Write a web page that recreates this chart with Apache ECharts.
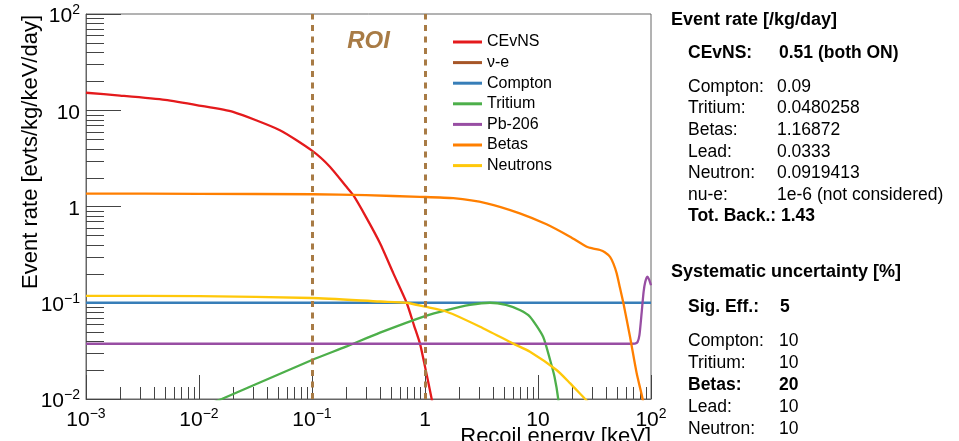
<!DOCTYPE html>
<html>
<head>
<meta charset="utf-8">
<script src="https://cdn.jsdelivr.net/npm/echarts@6/dist/echarts.min.js"></script>
<style>
  html, body { margin: 0; padding: 0; background: #fff; }
  #chart { width: 959px; height: 441px; }
</style>
</head>
<body>
<div id="chart"></div>
<script>
const FONT = '"Liberation Sans", Arial, Helvetica, sans-serif';

// Recoil energy [keV] and differential rate [evts/kg/keV/day] per component
const cevnsEnergy = [0.001, 0.002, 0.005, 0.01, 0.02, 0.052, 0.1, 0.144, 0.2, 0.232, 0.3, 0.4, 0.525, 0.688, 0.8, 0.904, 1.0, 1.146, 1.25];
const cevnsRate   = [15.2, 14.2, 12.8, 11.2, 9.6, 6.2, 3.8, 2.59, 1.62, 1.31, 0.78, 0.415, 0.202, 0.1, 0.058, 0.0374, 0.0217, 0.01, 0.0055];

const nueEnergy = [0.001, 100];
const nueRate   = [1e-6, 1e-6];

const comptonEnergy = [0.001, 100];
const comptonRate   = [0.1, 0.1];

const tritiumEnergy = [0.012, 0.0159, 0.03, 0.1, 0.2, 0.4, 1, 1.556, 2.5, 3.76, 5.2, 6.9, 8.49, 11.1, 12.8, 14, 15.1, 16];
const tritiumRate   = [0.0087, 0.01, 0.0138, 0.0254, 0.035, 0.0489, 0.0727, 0.084, 0.095, 0.1, 0.095, 0.084, 0.0717, 0.0444, 0.0254, 0.017, 0.01, 0.005];

const leadEnergy = [0.001, 1, 50, 68, 72, 76, 79, 82.6, 86, 89, 92.7, 96, 100];
const leadRate   = [0.0375, 0.0375, 0.0375, 0.0375, 0.0376, 0.039, 0.046, 0.078, 0.13, 0.165, 0.187, 0.175, 0.152];

const betasEnergy = [0.001, 0.01, 0.1, 0.3, 0.9, 1.78, 3.52, 6.9, 11.9, 19.2, 27, 31, 35.4, 39, 43.4, 46.5, 49.7, 53, 56.9, 65.2, 74.7, 84.3, 90];
const betasRate   = [1.36, 1.355, 1.34, 1.31, 1.26, 1.22, 1.08, 0.85, 0.653, 0.485, 0.382, 0.365, 0.353, 0.335, 0.30, 0.255, 0.202, 0.145, 0.1, 0.0444, 0.0185, 0.01, 0.006];

const neutronEnergy = [0.001, 0.01, 0.1, 0.4, 0.688, 1, 1.556, 3.07, 6.05, 8.49, 14.6, 19.2, 26.1, 30];
const neutronRate   = [0.118, 0.117, 0.112, 0.103, 0.1, 0.091, 0.0807, 0.0564, 0.0376, 0.031, 0.020, 0.0146, 0.01, 0.0085];

// Region of interest [keV]
const roiRange = [0.1, 1];

// Axis ranges (decade ticks)
const xRange = [1e-3, 1e2];
const yRange = [1e-2, 1e2];

// Summary panel
const rateTitle = 'Event rate [/kg/day]';
const signalLabel = 'CEvNS:';
const signalValue = '0.51 (both ON)';
const rateLabels = ['Compton:', 'Tritium:', 'Betas:', 'Lead:', 'Neutron:', 'nu-e:'];
const rateValues = ['0.09', '0.0480258', '1.16872', '0.0333', '0.0919413', '1e-6 (not considered)'];
const totalLabel = 'Tot. Back.: 1.43';
const systTitle = 'Systematic uncertainty [%]';
const effLabel = 'Sig. Eff.:';
const effValue = '5';
const systLabels = ['Compton:', 'Tritium:', 'Betas:', 'Lead:', 'Neutron:'];
const systValues = ['10', '10', '20', '10', '10'];
const systBold   = [false, false, true, false, false];

const zip = (xs, ys) => xs.map((x, i) => [x, ys[i]]);

// Minor tick values 2..9 x 10^d inside an axis range
function minorTicks(range) {
  const out = [];
  const d0 = Math.round(Math.log10(range[0]));
  const d1 = Math.round(Math.log10(range[1]));
  for (let d = d0; d < d1; d++) {
    for (let k = 2; k <= 9; k++) out.push(k * Math.pow(10, d));
  }
  return out;
}
const xMinor = minorTicks(xRange);
const yMinor = minorTicks(yRange);

function powerLabel(v) {
  const e = Math.round(Math.log10(v));
  if (e === 0) return '{b|1}';
  if (e === 1) return '{b|10}';
  return '{b|10}{s|' + (e < 0 ? '\u2212' + (-e) : String(e)) + '}';
}
const labelRich = {
  b: { fontFamily: FONT, fontSize: 21, lineHeight: 21, padding: [5, 0, 0, 0], color: '#000' },
  s: { fontFamily: FONT, fontSize: 14, lineHeight: 14, verticalAlign: 'top', color: '#000' }
};

function curve(name, color, xs, ys) {
  return {
    name, type: 'line', data: zip(xs, ys),
    symbol: 'none', smooth: 0.2, z: 3,
    lineStyle: { color, width: 2.3 }, itemStyle: { color },
    clip: true
  };
}

const tickColor = '#444';
function tickSeries(values, horizontal, len) {
  return {
    type: 'custom', silent: true, z: 1, clip: false,
    data: values.map(v => horizontal ? [v, yRange[0]] : [xRange[0], v]),
    renderItem(params, api) {
      const p = api.coord([api.value(0), api.value(1)]);
      if (horizontal) {
        const x = Math.round(p[0]) + 0.5;
        return { type: 'line', shape: { x1: x, y1: p[1], x2: x, y2: p[1] - len },
                 style: { stroke: tickColor, lineWidth: 1 } };
      }
      const y = Math.round(p[1]) + 0.5;
      return { type: 'line', shape: { x1: p[0], y1: y, x2: p[0] + len, y2: y },
               style: { stroke: tickColor, lineWidth: 1 } };
    }
  };
}

const roiColor = '#a87b45';
const legendNames = ['CEvNS', '\u03bd-e', 'Compton', 'Tritium', 'Pb-206', 'Betas', 'Neutrons'];

const series = [
  curve(legendNames[0], '#e41a1c', cevnsEnergy, cevnsRate),
  curve(legendNames[1], '#a65628', nueEnergy, nueRate),
  curve(legendNames[2], '#377eb8', comptonEnergy, comptonRate),
  curve(legendNames[3], '#4daf4a', tritiumEnergy, tritiumRate),
  curve(legendNames[4], '#984ea3', leadEnergy, leadRate),
  curve(legendNames[5], '#ff7f00', betasEnergy, betasRate),
  curve(legendNames[6], '#ffc80a', neutronEnergy, neutronRate),
  {
    name: 'ROI', type: 'line', data: [], z: 5, silent: true,
    markLine: {
      silent: true, symbol: ['none', 'none'], animation: false,
      label: { show: false },
      lineStyle: { color: roiColor, width: 3, type: [6, 5.5] },
      data: [{ xAxis: roiRange[0] }, { xAxis: roiRange[1] }]
    },
    markArea: {
      silent: true, itemStyle: { color: 'rgba(0,0,0,0)' },
      label: {
        show: true, position: 'insideTop', distance: 15, formatter: 'ROI',
        fontFamily: FONT, fontSize: 24, fontWeight: 'bold', fontStyle: 'italic', color: roiColor
      },
      data: [[{ xAxis: roiRange[0] }, { xAxis: roiRange[1] }]]
    }
  },
  tickSeries(xMinor, true, 12),
  tickSeries(yMinor, false, 18)
];

// Right-hand summary text
const graphics = [];
function txt(x, y, text, bold, size) {
  graphics.push({
    type: 'text', x, y, silent: true,
    style: {
      text, fill: '#000', align: 'left', verticalAlign: 'middle',
      font: (bold ? 'bold ' : '') + size + 'px ' + FONT
    }
  });
}
txt(671, 20, rateTitle, true, 18);
txt(688, 53, signalLabel, true, 17.5);
txt(779, 53, signalValue, true, 17.5);
rateLabels.forEach((l, i) => {
  const y = 87 + i * 21.6;
  txt(688, y, l, false, 17.5);
  txt(777, y, rateValues[i], false, 17.5);
});
txt(688, 216, totalLabel, true, 17.5);
txt(671, 272, systTitle, true, 18);
txt(688, 307.5, effLabel, true, 17.5);
txt(780, 307.5, effValue, true, 17.5);
systLabels.forEach((l, i) => {
  const y = 341 + i * 22;
  txt(688, y, l, systBold[i], 17.5);
  txt(779, y, systValues[i], systBold[i], 17.5);
});

// Axis titles
graphics.push({
  type: 'text', x: 31, y: 15, rotation: Math.PI / 2, silent: true,
  style: { text: 'Event rate [evts/kg/keV/day]', fill: '#000', align: 'right', verticalAlign: 'middle',
           font: '22px ' + FONT }
});
graphics.push({
  type: 'text', x: 651, y: 426, silent: true,
  style: { text: 'Recoil energy [keV]', fill: '#000', align: 'right', verticalAlign: 'top',
           font: '22px ' + FONT }
});

const chart = echarts.init(document.getElementById('chart'), null, { renderer: 'canvas' });
chart.setOption({
  animation: false,
  backgroundColor: '#fff',
  grid: { left: 86, right: 308, top: 14, bottom: 42, show: true, borderColor: '#666', borderWidth: 1,
          backgroundColor: 'transparent' },
  legend: {
    data: legendNames.map(name => ({ name, icon: 'rect' })),
    orient: 'vertical', left: 453, top: 34, padding: 0,
    itemWidth: 29, itemHeight: 3, itemGap: 4.6,
    textStyle: { fontFamily: FONT, fontSize: 16, lineHeight: 16, color: '#000' },
    selectedMode: false
  },
  xAxis: {
    type: 'log', logBase: 10, min: xRange[0], max: xRange[1],
    axisLine: { show: true, lineStyle: { color: '#666', width: 1 } },
    axisTick: { show: true, inside: true, length: 24, lineStyle: { color: tickColor } },
    splitLine: { show: false },
    minorTick: { show: false },
    axisLabel: { margin: 8, formatter: powerLabel, rich: labelRich }
  },
  yAxis: {
    type: 'log', logBase: 10, min: yRange[0], max: yRange[1],
    axisLine: { show: true, lineStyle: { color: '#666', width: 1 } },
    axisTick: { show: true, inside: true, length: 35, lineStyle: { color: tickColor } },
    splitLine: { show: false },
    minorTick: { show: false },
    axisLabel: { margin: 6, formatter: powerLabel, rich: labelRich }
  },
  graphic: graphics,
  series
});
</script>
</body>
</html>
